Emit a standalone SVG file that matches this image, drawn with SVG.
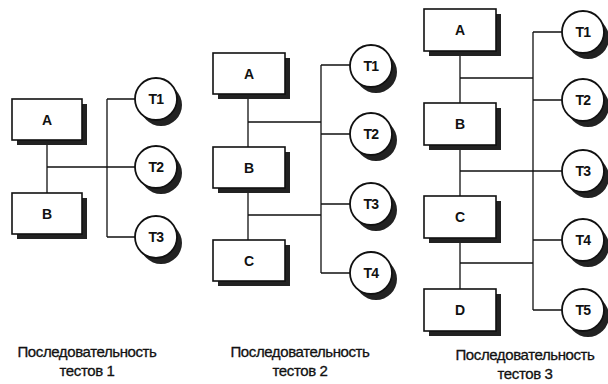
<svg xmlns="http://www.w3.org/2000/svg" width="608" height="384" viewBox="0 0 608 384">
<defs>
<style>
.box{fill:#fff;stroke:#111;stroke-width:1.6}
.bs{fill:#222}
.cir{fill:#fff;stroke:#111;stroke-width:1.8}
.cs{fill:#222}
.ln{stroke:#111;stroke-width:1.3;fill:none}
.bl{font-family:"Liberation Sans",Arial,sans-serif;font-size:14px;font-weight:bold;fill:#111;text-anchor:middle}
.cl{font-family:"Liberation Sans",Arial,sans-serif;font-size:14px;font-weight:bold;fill:#111;text-anchor:middle;letter-spacing:-0.6px}
.cap{font-family:"Liberation Sans",Arial,sans-serif;font-size:15px;fill:#111;stroke:#111;stroke-width:0.3;text-anchor:middle;letter-spacing:-0.4px}
</style>
</defs>
<rect width="608" height="384" fill="#fff"/>

<g id="connectors">
<path class="ln" d="M47 140V193M47 167H135M107 99V237M107 99H135M107 237H135"/>
<path class="ln" d="M248 94V240M248 122H321M248 215H321M321 65V273M321 65H350M321 134H350M321 204H350M321 273H350"/>
<path class="ln" d="M460 51V289M460 78H533M460 171H562M460 263H533M533 32V310M533 32H562M533 100H562M533 240H562M533 310H562"/>
</g>

<g id="p1-A"><rect class="bs" x="17" y="104" width="70" height="41"/><rect class="box" x="12" y="99" width="70" height="41"/><text class="bl" x="47" y="125">A</text></g>
<g id="p1-B"><rect class="bs" x="17" y="198" width="70" height="41"/><rect class="box" x="12" y="193" width="70" height="41"/><text class="bl" x="47" y="219">B</text></g>
<g id="p1-T1"><circle class="cs" cx="161" cy="105" r="21"/><circle class="cir" cx="156" cy="99" r="21"/><text class="cl" x="156" y="104">T1</text></g>
<g id="p1-T2"><circle class="cs" cx="161" cy="173" r="21"/><circle class="cir" cx="156" cy="167" r="21"/><text class="cl" x="156" y="172">T2</text></g>
<g id="p1-T3"><circle class="cs" cx="161" cy="243" r="21"/><circle class="cir" cx="156" cy="237" r="21"/><text class="cl" x="156" y="242">T3</text></g>
<g id="p1-caption"><text class="cap" x="87" y="357">Последовательность</text><text class="cap" x="87" y="376">тестов 1</text></g>

<g id="p2-A"><rect class="bs" x="218" y="58" width="72" height="41"/><rect class="box" x="213" y="53" width="72" height="41"/><text class="bl" x="249" y="79">A</text></g>
<g id="p2-B"><rect class="bs" x="218" y="152" width="72" height="41"/><rect class="box" x="213" y="147" width="72" height="41"/><text class="bl" x="249" y="173">B</text></g>
<g id="p2-C"><rect class="bs" x="218" y="245" width="72" height="41"/><rect class="box" x="213" y="240" width="72" height="41"/><text class="bl" x="249" y="266">C</text></g>
<g id="p2-T1"><circle class="cs" cx="376" cy="72" r="21"/><circle class="cir" cx="371" cy="66" r="21"/><text class="cl" x="371" y="71">T1</text></g>
<g id="p2-T2"><circle class="cs" cx="376" cy="140" r="21"/><circle class="cir" cx="371" cy="134" r="21"/><text class="cl" x="371" y="139">T2</text></g>
<g id="p2-T3"><circle class="cs" cx="376" cy="210" r="21"/><circle class="cir" cx="371" cy="204" r="21"/><text class="cl" x="371" y="209">T3</text></g>
<g id="p2-T4"><circle class="cs" cx="376" cy="279" r="21"/><circle class="cir" cx="371" cy="273" r="21"/><text class="cl" x="371" y="278">T4</text></g>
<g id="p2-caption"><text class="cap" x="300" y="357">Последовательность</text><text class="cap" x="300" y="376">тестов 2</text></g>

<g id="p3-A"><rect class="bs" x="429" y="14" width="72" height="42"/><rect class="box" x="424" y="9" width="72" height="42"/><text class="bl" x="460" y="35">A</text></g>
<g id="p3-B"><rect class="bs" x="429" y="108" width="72" height="42"/><rect class="box" x="424" y="103" width="72" height="42"/><text class="bl" x="460" y="129">B</text></g>
<g id="p3-C"><rect class="bs" x="429" y="201" width="72" height="42"/><rect class="box" x="424" y="196" width="72" height="42"/><text class="bl" x="460" y="222">C</text></g>
<g id="p3-D"><rect class="bs" x="429" y="294" width="72" height="42"/><rect class="box" x="424" y="289" width="72" height="42"/><text class="bl" x="460" y="315">D</text></g>
<g id="p3-T1"><circle class="cs" cx="588" cy="38" r="21"/><circle class="cir" cx="583" cy="32" r="21"/><text class="cl" x="583" y="37">T1</text></g>
<g id="p3-T2"><circle class="cs" cx="588" cy="106" r="21"/><circle class="cir" cx="583" cy="100" r="21"/><text class="cl" x="583" y="105">T2</text></g>
<g id="p3-T3"><circle class="cs" cx="588" cy="177" r="21"/><circle class="cir" cx="583" cy="171" r="21"/><text class="cl" x="583" y="176">T3</text></g>
<g id="p3-T4"><circle class="cs" cx="588" cy="246" r="21"/><circle class="cir" cx="583" cy="240" r="21"/><text class="cl" x="583" y="245">T4</text></g>
<g id="p3-T5"><circle class="cs" cx="588" cy="316" r="21"/><circle class="cir" cx="583" cy="310" r="21"/><text class="cl" x="583" y="315">T5</text></g>
<g id="p3-caption"><text class="cap" x="525" y="360">Последовательность</text><text class="cap" x="525" y="379">тестов 3</text></g>
</svg>
